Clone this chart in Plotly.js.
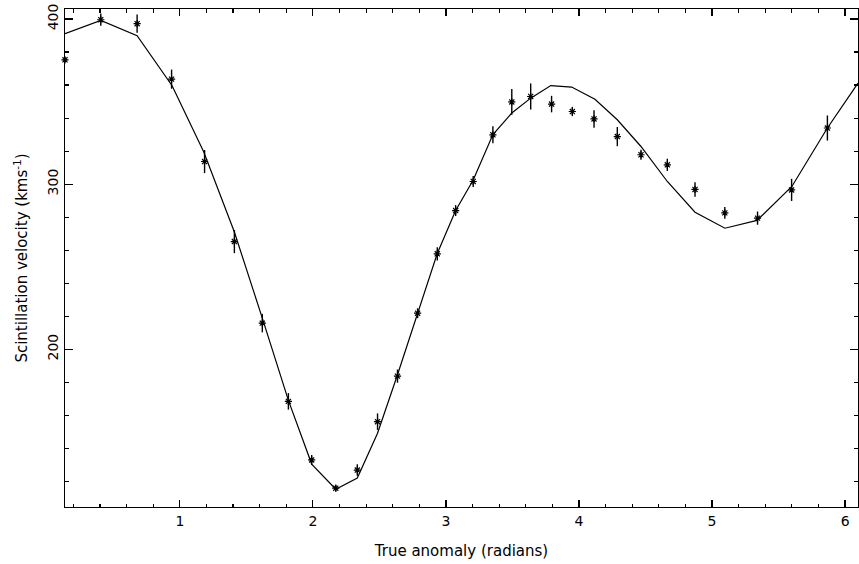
<!DOCTYPE html>
<html>
<head>
<meta charset="utf-8">
<script src="https://cdn.plot.ly/plotly-3.0.1.min.js"></script>
<style>
html,body{margin:0;padding:0;background:#fff;}
#chart{width:859px;height:564px;}
</style>
</head>
<body>
<div id="chart"></div>
<script>
// Observed scintillation velocities (km/s) vs true anomaly (radians)
const obsAnomaly = [0.137, 0.406, 0.679, 0.938, 1.186, 1.410, 1.620, 1.816, 1.991, 2.172, 2.334, 2.486, 2.636, 2.787, 2.935, 3.073, 3.205, 3.353, 3.495, 3.637, 3.794, 3.950, 4.113, 4.288, 4.466, 4.664, 4.872, 5.096, 5.342, 5.598, 5.867];
const obsVelocity = [375.3, 399.6, 397.2, 363.6, 313.7, 265.2, 215.8, 168.4, 132.9, 115.8, 126.8, 156.1, 183.7, 221.8, 257.8, 284.0, 301.6, 329.9, 349.8, 353.1, 348.5, 344.0, 339.5, 328.8, 317.8, 311.7, 296.8, 282.6, 279.4, 296.5, 334.0];
const obsError = [1.5, 3.7, 5.5, 5.8, 7.0, 7.0, 5.6, 5.0, 3.0, 2.0, 3.5, 5.0, 4.0, 3.0, 4.0, 3.3, 3.4, 5.2, 7.8, 7.9, 5.0, 2.8, 5.3, 5.8, 3.0, 3.7, 4.4, 3.6, 4.0, 6.7, 7.6];

// Model curve
const modelAnomaly = [0.137, 0.406, 0.679, 0.942, 1.180, 1.410, 1.620, 1.816, 1.991, 2.172, 2.334, 2.486, 2.636, 2.787, 2.935, 3.073, 3.205, 3.353, 3.495, 3.637, 3.788, 3.945, 4.120, 4.288, 4.466, 4.664, 4.872, 5.097, 5.338, 5.600, 5.867, 6.097];
const modelVelocity = [391.1, 399.2, 389.9, 359.6, 319.5, 271.0, 218.8, 169.0, 130.4, 115.2, 122.0, 149.1, 184.5, 221.5, 258.0, 284.0, 302.5, 330.0, 343.1, 352.1, 359.7, 358.8, 351.4, 339.0, 322.8, 301.6, 283.0, 273.3, 278.0, 298.6, 334.0, 361.2];

const xTickVals = [1, 2, 3, 4, 5, 6];
const yTickVals = [200, 300, 400];

const FONT = 'DejaVu Sans, sans-serif';

const traces = [
  {
    x: modelAnomaly, y: modelVelocity, type: 'scatter', mode: 'lines',
    line: {color: '#000', width: 1.2}, hoverinfo: 'skip'
  },
  {
    x: obsAnomaly, y: obsVelocity, type: 'scatter', mode: 'markers',
    marker: {symbol: 'asterisk-open', size: 6, color: '#000', line: {color: '#000', width: 1.2}},
    error_y: {type: 'data', array: obsError, visible: true, color: '#000', thickness: 1.4, width: 0},
    cliponaxis: false
  }
];

const axisCommon = {
  showgrid: false, zeroline: false, showline: true, linecolor: '#000', linewidth: 1.4,
  mirror: 'allticks', ticks: 'inside', tickcolor: '#000', tickwidth: 1.2,
  tickfont: {family: FONT, size: 14, color: '#000'}
};

const layout = {
  width: 859, height: 564,
  margin: {l: 65, r: 1, t: 9, b: 57},
  paper_bgcolor: '#fff', plot_bgcolor: '#fff',
  showlegend: false,
  xaxis: Object.assign({}, axisCommon, {
    range: [0.137, 6.097],
    tickmode: 'array', tickvals: xTickVals, ticktext: xTickVals.map(String),
    ticklen: 7, ticklabelstandoff: 1,
    minor: {dtick: 0.2, tick0: 0, ticks: 'inside', ticklen: 3.5, tickcolor: '#000', tickwidth: 1.2},
    title: {text: 'True anomaly (radians)', font: {family: FONT, size: 15, color: '#000'}, standoff: 17}
  }),
  yaxis: Object.assign({}, axisCommon, {
    range: [104.4, 406.1],
    tickmode: 'array', tickvals: yTickVals, ticktext: yTickVals.map(String),
    ticklen: 8, tickangle: -90,
    minor: {dtick: 20, tick0: 0, ticks: 'inside', ticklen: 4, tickcolor: '#000', tickwidth: 1.2},
    title: {text: 'Scintillation velocity (kms<sup>-1</sup>)', font: {family: FONT, size: 15, color: '#000'}, standoff: 13}
  })
};

Plotly.newPlot('chart', traces, layout, {staticPlot: true, displayModeBar: false});
</script>
</body>
</html>
